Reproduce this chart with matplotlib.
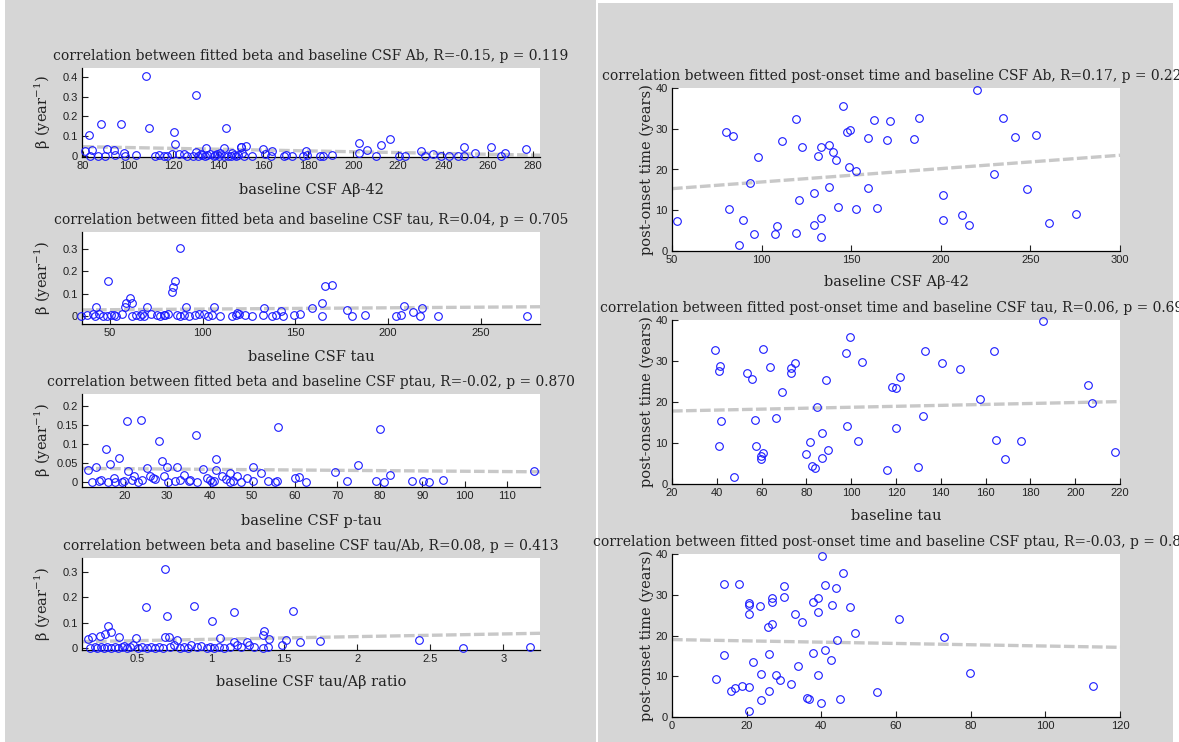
import matplotlib
matplotlib.use("Agg")
import matplotlib.pyplot as plt
from matplotlib.patches import Rectangle
import numpy as np

plt.rcParams["mathtext.fontset"] = "dejavuserif"

# ---------------- data ----------------
# Left column: fitted beta vs CSF biomarkers
ab_x = [80.7, 82.7, 83.1, 84.1, 86.4, 88.1, 89.7, 90.5, 93.9, 94.2, 96.8, 98.1, 98.6, 103.7,
        108.1, 109.3, 111.9, 113.9, 115.9, 117.1, 119.7, 120.2, 120.7, 122.7, 125.0, 126.1,
        128.6, 130.3, 130.3, 131.2, 132.4, 133.0, 134.1, 134.6, 135.1, 136.5, 138.0, 138.8,
        139.5, 140.5, 141.0, 142.4, 142.7, 143.4, 144.4, 145.6, 146.1, 147.0, 148.1, 149.0,
        150.0, 150.3, 150.7, 151.5, 152.5, 154.9, 160.0, 160.7, 163.4, 163.9, 169.3, 170.2,
        172.7, 177.5, 179.2, 179.5, 185.4, 186.8, 190.5, 202.4, 202.4, 206.3, 210.0, 212.5,
        216.4, 220.2, 223.2, 230.3, 231.7, 235.4, 238.8, 242.7, 246.4, 249.2, 249.2, 254.1,
        261.4, 265.6, 267.6, 276.6]
ab_beta = [0.027, 0.106, 0.0, 0.030, 0.0, 0.160, 0.0, 0.034, 0.029, 0.003, 0.160, 0.013, 0.0, 0.003,
           0.403, 0.143, 0.0, 0.005, 0.0, 0.0, 0.010, 0.123, 0.059, 0.010, 0.008, 0.0,
           0.0, 0.308, 0.022, 0.0, 0.010, 0.005, 0.0, 0.039, 0.003, 0.010, 0.0, 0.003,
           0.008, 0.0, 0.015, 0.039, 0.0, 0.139, 0.0, 0.0, 0.013, 0.003, 0.0, 0.005,
           0.043, 0.044, 0.013, 0.0, 0.048, 0.0, 0.037, 0.010, 0.0, 0.027, 0.0, 0.005,
           0.0, 0.0, 0.024, 0.003, 0.0, 0.0, 0.003, 0.064, 0.013, 0.030, 0.0, 0.054,
           0.084, 0.0, 0.0, 0.025, 0.0, 0.010, 0.0, 0.0, 0.0, 0.044, 0.0, 0.017,
           0.047, 0.0, 0.013, 0.034]
ab_fit_x = [80, 283]
ab_fit_y = [0.047, 0.004]

tau_x = [34.3, 37.6, 41.1, 42.2, 42.6, 44.0, 46.3, 48.3, 49.0, 50.4, 52.0, 53.5, 56.6, 58.0,
         58.7, 60.7, 61.8, 62.2, 64.2, 66.5, 67.5, 68.6, 70.0, 72.1, 75.2, 77.2, 79.3, 80.0,
         81.4, 83.4, 84.1, 85.1, 86.0, 87.6, 87.6, 90.0, 91.3, 92.7, 95.8, 98.0, 101.0, 103.0,
         105.1, 106.1, 109.2, 116.0, 118.1, 118.5, 119.8, 122.7, 126.8, 132.6, 133.0, 137.7,
         139.6, 142.3, 143.3, 149.5, 152.6, 158.8, 164.3, 164.6, 166.0, 169.7, 177.8, 180.4,
         187.7, 204.2, 207.3, 208.5, 213.5, 217.5, 218.6, 226.9, 275.0]
tau_beta = [0.0, 0.005, 0.010, 0.0, 0.042, 0.008, 0.0, 0.0, 0.155, 0.005, 0.003, 0.0, 0.010, 0.039,
            0.057, 0.083, 0.0, 0.060, 0.005, 0.0, 0.008, 0.0, 0.039, 0.008, 0.005, 0.0, 0.003, 0.003,
            0.010, 0.110, 0.129, 0.159, 0.005, 0.305, 0.0, 0.005, 0.042, 0.0, 0.005, 0.008, 0.010, 0.0,
            0.005, 0.042, 0.0, 0.0, 0.005, 0.012, 0.010, 0.005, 0.0, 0.005, 0.037, 0.0,
            0.005, 0.022, 0.0, 0.005, 0.008, 0.037, 0.0, 0.060, 0.135, 0.140, 0.027, 0.0,
            0.005, 0.0, 0.005, 0.046, 0.020, 0.0, 0.035, 0.0, 0.0]
tau_fit_x = [35, 282]
tau_fit_y = [0.028, 0.042]

ptau_x = [11.5, 12.3, 13.3, 13.9, 14.5, 15.7, 16.0, 16.6, 17.5, 17.7, 18.6, 19.5, 19.9, 20.6,
          20.8, 21.7, 22.2, 23.2, 23.8, 24.1, 25.3, 25.9, 26.7, 27.1, 28.0, 28.9, 29.4, 30.1,
          30.3, 31.9, 32.3, 33.0, 33.9, 35.2, 35.4, 36.8, 37.0, 38.4, 39.3, 40.2, 40.6, 41.1,
          41.5, 41.5, 42.9, 43.8, 44.7, 44.9, 45.6, 46.5, 47.4, 48.7, 50.1, 50.1, 52.2, 53.7,
          55.3, 55.9, 56.2, 60.2, 61.0, 62.7, 69.5, 72.2, 74.9, 79.1, 80.0, 81.0, 82.5, 87.5,
          90.2, 91.5, 95.0, 116.4]
ptau_beta = [0.032, 0.0, 0.041, 0.003, 0.005, 0.086, 0.0, 0.047, 0.012, 0.0, 0.063, 0.0, 0.003, 0.161,
             0.030, 0.005, 0.015, 0.0, 0.163, 0.005, 0.038, 0.015, 0.010, 0.008, 0.107, 0.056, 0.015, 0.040,
             0.0, 0.003, 0.040, 0.005, 0.018, 0.003, 0.005, 0.124, 0.0, 0.034, 0.012, 0.005, 0.0, 0.003,
             0.060, 0.033, 0.015, 0.008, 0.0, 0.023, 0.003, 0.015, 0.0, 0.010, 0.039, 0.003, 0.024, 0.003,
             0.0, 0.003, 0.144, 0.010, 0.013, 0.0, 0.027, 0.003, 0.046, 0.003, 0.140, 0.0, 0.018, 0.003,
             0.003, 0.0, 0.005, 0.030]
ptau_fit_x = [10, 117.7]
ptau_fit_y = [0.036, 0.027]

ratio_x = [0.159, 0.172, 0.185, 0.206, 0.225, 0.243, 0.251, 0.269, 0.280, 0.290, 0.295, 0.316, 0.316,
           0.343, 0.364, 0.374, 0.390, 0.408, 0.427, 0.448, 0.469, 0.492, 0.505, 0.531, 0.558, 0.566,
           0.592, 0.618, 0.644, 0.671, 0.684, 0.684, 0.702, 0.712, 0.723, 0.749, 0.770, 0.789, 0.815,
           0.841, 0.867, 0.886, 0.907, 0.933, 0.972, 0.998, 1.009, 1.025, 1.056, 1.064, 1.090, 1.130,
           1.158, 1.161, 1.177, 1.208, 1.248, 1.261, 1.295, 1.360, 1.360, 1.366, 1.392, 1.397, 1.484,
           1.515, 1.560, 1.610, 1.746, 2.420, 2.722, 3.181]
ratio_beta = [0.034, 0.0, 0.042, 0.003, 0.0, 0.046, 0.005, 0.0, 0.055, 0.003, 0.088, 0.062, 0.0,
              0.005, 0.0, 0.043, 0.003, 0.008, 0.0, 0.005, 0.010, 0.039, 0.0, 0.005, 0.162, 0.0,
              0.005, 0.0, 0.003, 0.0, 0.313, 0.043, 0.125, 0.042, 0.005, 0.010, 0.033, 0.0, 0.005,
              0.0, 0.010, 0.167, 0.005, 0.008, 0.0, 0.005, 0.108, 0.0, 0.003, 0.039, 0.0, 0.005,
              0.142, 0.024, 0.010, 0.003, 0.024, 0.010, 0.005, 0.053, 0.0, 0.066, 0.003, 0.037, 0.010,
              0.033, 0.146, 0.024, 0.026, 0.033, 0.0, 0.005]
ratio_fit_x = [0.12, 3.25]
ratio_fit_y = [0.025, 0.058]

# Right column: fitted post-onset time vs CSF biomarkers
onset_ab_x = [52.9, 80.3, 84.1, 81.8, 89.7, 87.4, 95.5, 93.8, 97.8, 111.5, 107.6, 108.6, 119.2,
              132.9, 119.4, 122.7, 120.6, 129.4, 129.4, 131.7, 133.3, 133.3, 137.5, 137.5, 139.8,
              141.4, 142.7, 145.6, 147.7, 149.5, 148.5, 152.4, 152.4, 159.5, 159.3, 162.6, 164.5,
              169.7, 171.6, 184.9, 187.6, 201.3, 201.3, 211.7, 215.8, 220.4, 229.7, 234.9, 241.5,
              247.9, 253.2, 260.5, 275.7]
onset_ab_t = [7.4, 29.3, 28.3, 10.3, 7.7, 1.5, 4.1, 16.6, 23.0, 27.0, 4.2, 6.2, 4.5,
              3.5, 32.4, 25.4, 12.4, 6.4, 14.3, 23.3, 25.4, 8.2, 25.9, 15.8, 24.2,
              22.3, 10.8, 35.6, 29.3, 29.7, 20.7, 19.7, 10.2, 27.8, 15.4, 32.2, 10.6,
              27.2, 31.8, 27.5, 32.7, 13.7, 7.7, 8.9, 6.4, 39.6, 18.9, 32.7, 28.0,
              15.3, 28.5, 6.8, 9.2]
onset_ab_fit_x = [50, 300]
onset_ab_fit_y = [15.3, 23.5]

onset_tau_x = [39.0, 41.3, 40.8, 41.8, 40.9, 47.9, 53.6, 55.9, 56.9, 57.7, 60.6, 60.6, 59.7, 59.7,
               63.7, 66.5, 68.9, 73.0, 73.0, 74.9, 79.9, 81.7, 82.7, 83.7, 84.7, 86.8, 86.8, 88.7,
               89.7, 98.0, 97.8, 99.6, 103.0, 104.8, 115.9, 118.3, 120.1, 119.9, 121.9, 129.6,
               131.9, 132.9, 140.7, 148.5, 157.7, 163.8, 164.6, 168.8, 175.6, 185.8, 205.5, 207.4,
               217.8]
onset_tau_t = [32.7, 28.8, 27.6, 15.4, 9.2, 1.6, 27.1, 25.6, 15.7, 9.2, 32.9, 7.6, 6.8, 6.1,
               28.5, 16.0, 22.5, 28.3, 27.1, 29.6, 7.4, 10.2, 4.5, 4.0, 18.9, 6.4, 12.4, 25.4,
               8.2, 14.1, 31.9, 35.9, 10.6, 29.8, 3.5, 23.6, 23.3, 13.7, 26.1, 4.2,
               16.7, 32.4, 29.5, 28.0, 20.7, 32.4, 10.8, 6.1, 10.5, 39.8, 24.1, 19.8,
               7.7]
onset_tau_fit_x = [20, 220]
onset_tau_fit_y = [17.8, 20.1]

onset_ptau_x = [11.9, 13.8, 13.9, 15.7, 16.9, 17.9, 18.8, 20.6, 20.7, 20.6, 20.7, 20.7, 21.8, 23.7,
                23.8, 23.8, 25.7, 26.0, 25.9, 26.8, 26.8, 26.9, 27.9, 28.8, 29.9, 29.9, 31.8, 32.9,
                33.8, 34.9, 36.1, 36.7, 37.9, 37.9, 39.0, 39.0, 39.0, 39.8, 40.1, 41.0, 40.9, 42.6,
                42.9, 44.0, 44.3, 44.9, 45.9, 47.8, 48.9, 54.8, 60.9, 72.9, 79.9, 112.8]
onset_ptau_t = [9.3, 32.6, 15.2, 6.3, 7.0, 32.6, 7.6, 27.9, 27.4, 25.3, 7.4, 1.5, 13.6, 27.2,
                10.5, 4.1, 22.2, 15.4, 6.4, 29.3, 28.3, 22.9, 10.4, 9.0, 32.1, 29.5, 8.1, 25.3,
                12.4, 23.2, 4.7, 4.3, 15.6, 28.2, 29.3, 10.3, 25.8, 3.5, 39.4, 16.4, 32.4, 14.1,
                27.6, 31.6, 18.9, 4.3, 35.4, 26.9, 20.7, 6.1, 24.0, 19.6, 10.8, 7.7]
onset_ptau_fit_x = [0, 120]
onset_ptau_fit_y = [19.0, 17.1]

# ---------------- figure ----------------
W, H = 1179, 742
fig = plt.figure(figsize=(W / 100, H / 100), dpi=100, facecolor="white")
GRAY = "#d6d6d6"
fig.patches.append(Rectangle((5 / W, 0), (596 - 5) / W, 1.0, transform=fig.transFigure,
                             facecolor=GRAY, edgecolor="none", zorder=-10))
fig.patches.append(Rectangle((598 / W, 0), (1173 - 598) / W, (H - 3) / H, transform=fig.transFigure,
                             facecolor=GRAY, edgecolor="none", zorder=-10))

SERIF = ["DejaVu Serif"]
TICKFONT = ["Liberation Sans", "DejaVu Sans"]
BLUE = "#1a1aff"
LINEGRAY = "#c8c8c8"
TXT = "#222222"


def make_ax(x0, x1, ytop, ybot):
    return fig.add_axes([x0 / W, (H - ybot) / H, (x1 - x0) / W, (ybot - ytop) / H])


def style(ax, px, title, xlabel, ylabel, xlim, ylim, xticks, xticklabels, yticks, yticklabels,
          ylab_x, xlab_y, fit_x, fit_y, x, y):
    x0, x1, ytop, ybot = px
    ax.plot(fit_x, fit_y, color=LINEGRAY, lw=2.4, dashes=(3.2, 1.0), zorder=1, clip_on=False)
    ax.plot(x, y, linestyle="none", marker="o", ms=5.5, mfc="none", mec=BLUE, mew=0.8,
            zorder=3, clip_on=False)
    ax.set_xlim(*xlim)
    ax.set_ylim(*ylim)
    ax.set_xticks(xticks)
    ax.set_xticklabels(xticklabels, family=TICKFONT, fontsize=8)
    ax.set_yticks(yticks)
    ax.set_yticklabels(yticklabels, family=TICKFONT, fontsize=8)
    ax.tick_params(direction="in", length=4, width=0.8, pad=3, colors=TXT)
    for s in ("top", "right"):
        ax.spines[s].set_visible(False)
    for s in ("left", "bottom"):
        ax.spines[s].set_linewidth(0.9)
    ax.set_facecolor("white")
    ax.set_title(title, family=SERIF, fontsize=10, color=TXT, pad=6)
    if xlabel:
        ax.set_xlabel(xlabel, family=SERIF, fontsize=10.5, color=TXT)
        ax.xaxis.set_label_coords((x0 + x1) / 2 / W, (H - xlab_y) / H, transform=fig.transFigure)
        ax.xaxis.label.set_va("center")
    ax.set_ylabel(ylabel, family=SERIF, fontsize=10.5, color=TXT)
    ax.yaxis.set_label_coords(ylab_x / W, (H - (ytop + ybot) / 2) / H, transform=fig.transFigure)
    ax.yaxis.label.set_va("center")


BETA_LABEL = "β (year$^{-1}$)"

# Left column
p = (82, 540, 68, 157)
style(make_ax(*p), p, "correlation between fitted beta and baseline CSF Ab, R=-0.15, p = 0.119",
      "baseline CSF Aβ-42", BETA_LABEL, (79.5, 283), (-0.005, 0.444),
      [80, 100, 120, 140, 160, 180, 200, 220, 240, 260, 280],
      ["80", "100", "120", "140", "160", "180", "200", "220", "240", "260", "280"],
      [0, 0.1, 0.2, 0.3, 0.4], ["0", "0.1", "0.2", "0.3", "0.4"], 43, 190,
      ab_fit_x, ab_fit_y, ab_x, ab_beta)

p = (82, 540, 232, 324)
style(make_ax(*p), p, "correlation between fitted beta and baseline CSF tau, R=0.04, p = 0.705",
      "baseline CSF tau", BETA_LABEL, (35, 282), (-0.035, 0.376),
      [50, 100, 150, 200, 250], ["50", "100", "150", "200", "250"],
      [0, 0.1, 0.2, 0.3], ["0", "0.1", "0.2", "0.3"], 43, 357,
      tau_fit_x, tau_fit_y, tau_x, tau_beta)

p = (82, 540, 394, 487)
style(make_ax(*p), p, "correlation between fitted beta and baseline CSF ptau, R=-0.02, p = 0.870",
      "baseline CSF p-tau", BETA_LABEL, (10, 117.7), (-0.013, 0.232),
      [20, 30, 40, 50, 60, 70, 80, 90, 100, 110],
      ["20", "30", "40", "50", "60", "70", "80", "90", "100", "110"],
      [0, 0.05, 0.1, 0.15, 0.2], ["0", "0.05", "0.1", "0.15", "0.2"], 43, 521,
      ptau_fit_x, ptau_fit_y, ptau_x, ptau_beta)

p = (82, 540, 558, 650)
style(make_ax(*p), p, "correlation between beta and baseline CSF tau/Ab, R=0.08, p = 0.413",
      "baseline CSF tau/Aβ ratio", BETA_LABEL, (0.12, 3.25), (-0.008, 0.355),
      [0.5, 1, 1.5, 2, 2.5, 3], ["0.5", "1", "1.5", "2", "2.5", "3"],
      [0, 0.1, 0.2, 0.3], ["0", "0.1", "0.2", "0.3"], 43, 682,
      ratio_fit_x, ratio_fit_y, ratio_x, ratio_beta)

# Right column
ONSET_LABEL = "post-onset time (years)"
p = (672, 1120, 88, 251)
style(make_ax(*p), p, "correlation between fitted post-onset time and baseline CSF Ab, R=0.17, p = 0.227",
      "baseline CSF Aβ-42", ONSET_LABEL, (50, 300), (0, 40),
      [50, 100, 150, 200, 250, 300], ["50", "100", "150", "200", "250", "300"],
      [0, 10, 20, 30, 40], ["0", "10", "20", "30", "40"], 647, 282,
      onset_ab_fit_x, onset_ab_fit_y, onset_ab_x, onset_ab_t)

p = (672, 1120, 320, 484)
style(make_ax(*p), p, "correlation between fitted post-onset time and baseline CSF tau, R=0.06, p = 0.690",
      "baseline tau", ONSET_LABEL, (20, 220), (0, 40),
      [20, 40, 60, 80, 100, 120, 140, 160, 180, 200, 220],
      ["20", "40", "60", "80", "100", "120", "140", "160", "180", "200", "220"],
      [0, 10, 20, 30, 40], ["0", "10", "20", "30", "40"], 647, 516,
      onset_tau_fit_x, onset_tau_fit_y, onset_tau_x, onset_tau_t)

p = (672, 1120, 554, 717)
style(make_ax(*p), p, "correlation between fitted post-onset time and baseline CSF ptau, R=-0.03, p = 0.810",
      None, ONSET_LABEL, (0, 120), (0, 40),
      [0, 20, 40, 60, 80, 100, 120], ["0", "20", "40", "60", "80", "100", "120"],
      [0, 10, 20, 30, 40], ["0", "10", "20", "30", "40"], 647, 750,
      onset_ptau_fit_x, onset_ptau_fit_y, onset_ptau_x, onset_ptau_t)

fig.savefig("out.png", dpi=100, facecolor="white")
